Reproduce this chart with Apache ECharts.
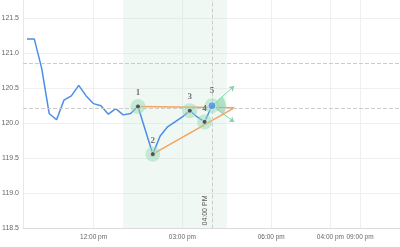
<!DOCTYPE html>
<html><head><meta charset="utf-8">
<script src="https://cdn.jsdelivr.net/npm/echarts@6/dist/echarts.min.js"></script>
<style>html,body{margin:0;padding:0;background:#fff}#c{width:400px;height:247px}</style>
</head><body><div id="c"></div>
<script>
// ---- data ----
const times = ['09:45','10:00','10:15','10:30','10:45','11:00','11:15','11:30','11:45','12:00','12:15','12:30','12:45','13:00','13:15','13:30','13:45','14:00','14:15','14:30','14:45','15:00','15:15','15:30','15:45','16:00'];
const prices = [121.20,121.20,120.78,120.14,120.05,120.33,120.39,120.54,120.39,120.28,120.25,120.13,120.21,120.12,120.14,120.24,119.90,119.56,119.82,119.95,120.02,120.09,120.18,120.09,120.02,120.25];
const patternTimes = ['13:30','14:00','15:15','15:45','16:00'];
const patternValues = [120.24,119.56,120.18,120.02,120.25];
const patternLabels = ['1','2','3','4','5'];
const triangleTimes = ['13:30','16:45','14:00'];
const triangleValues = [120.24,120.22,119.56];
const arrowTipTimes = ['16:45','16:45'];
const arrowTipValues = [120.53,120.02];
const levelLines = [120.857,120.21];
const sessionStart = '13:00', sessionEnd = '16:30';
const markerTime = '16:00', markerLabel = '04:00 PM';
const xTickTimes = ['12:00','15:00','18:00','20:00','21:00'];
const xTickLabels = ['12:00 pm','03:00 pm','06:00 pm','04:00 pm','09:00 pm'];
const yTicks = [118.5,119.0,119.5,120.0,120.5,121.0,121.5];
const xRange = ['09:37','22:21'];

function h(t){const p=t.split(':');return +p[0]+(+p[1])/60;}
const xTickVals = xTickTimes.map(h);

const chart = echarts.init(document.getElementById('c'), null, {renderer:'canvas'});
const p5 = [h(patternTimes[4]), patternValues[4]];
chart.setOption({
  animation:false,
  grid:{left:23,right:0,top:-17,bottom:18.5,containLabel:false,outerBoundsMode:'none'},
  xAxis:{type:'value',min:h(xRange[0]),max:h(xRange[1]),
    axisLine:{show:true,lineStyle:{color:'#dcdcdc'}},
    axisTick:{show:false,customValues:xTickVals},
    axisLabel:{customValues:xTickVals,color:'#666',fontSize:6.5,margin:5,fontFamily:'Liberation Sans',hideOverlap:false,
      showMinLabel:true,showMaxLabel:true,
      formatter:function(v){const i=xTickVals.findIndex(x=>Math.abs(x-v)<1e-6);return i>=0?xTickLabels[i]:'';}},
    splitLine:{show:true,lineStyle:{color:'#efefef',width:1}}
  },
  yAxis:{type:'value',min:118.5,max:122,interval:0.5,
    axisLine:{show:true,lineStyle:{color:'#e8e8e8'}},
    axisTick:{show:false},
    axisLabel:{color:'#666',fontSize:7,margin:4,fontFamily:'Liberation Sans',
      formatter:function(v){return yTicks.some(y=>Math.abs(y-v)<1e-6)?v.toFixed(1):'';}},
    splitLine:{lineStyle:{color:'#efefef',width:1}}
  },
  series:[
    {type:'line',data:times.map((t,i)=>[h(t),prices[i]]),showSymbol:false,symbol:'none',
      lineStyle:{color:'#4a8fe7',width:1.5},z:3,
      markArea:{silent:true,itemStyle:{color:'rgba(190,228,206,0.25)'},data:[[{xAxis:h(sessionStart)},{xAxis:h(sessionEnd)}]]},
      markLine:{silent:true,symbol:'none',
        lineStyle:{color:'#cccccc',type:'dashed',width:1},
        data:[
          {yAxis:levelLines[0],label:{show:false}},
          {yAxis:levelLines[1],label:{show:false}},
          {xAxis:h(markerTime),label:{show:true,formatter:markerLabel,position:'insideStartTop',fontSize:7,color:'#555',fontFamily:'Liberation Sans',distance:3}}
        ]}
    },
    {type:'line',data:triangleTimes.map((t,i)=>[h(t),triangleValues[i]]),showSymbol:false,symbol:'none',
      lineStyle:{color:'#f5a35c',width:1.5},z:2},
    {type:'custom',z:4,data:[p5],
      renderItem:function(params,api){
        const c=api.coord(p5);
        const a=api.coord([h(arrowTipTimes[0]),arrowTipValues[0]]);
        const b=api.coord([h(arrowTipTimes[1]),arrowTipValues[1]]);
        const a1=Math.atan2(a[1]-c[1],a[0]-c[0]);
        const a2=Math.atan2(b[1]-c[1],b[0]-c[0]);
        return {type:'sector',shape:{cx:c[0],cy:c[1],r0:0,r:14,startAngle:a1,endAngle:a2,clockwise:true},
          style:{fill:'rgba(120,210,160,0.55)'}};
      }},
    {type:'lines',coordinateSystem:'cartesian2d',z:4,symbol:['none','arrow'],symbolSize:5,
      lineStyle:{color:'#7fd4a8',width:1,opacity:1},
      data:arrowTipTimes.map((t,i)=>({coords:[p5,[h(t),arrowTipValues[i]]]}))},
    {type:'scatter',z:5,symbolSize:15,silent:true,
      itemStyle:{color:'rgba(150,220,178,0.6)'},
      data:patternTimes.map((t,i)=>[h(t),patternValues[i]])},
    {type:'scatter',z:6,silent:true,
      data:patternTimes.map((t,i)=>({value:[h(t),patternValues[i]],
        symbolSize:i===4?8:5,
        itemStyle:i===4?{color:'#4a8fe7',borderColor:'#e8f2fd',borderWidth:1}:{color:'#3a3a3a',borderColor:'#dff3e6',borderWidth:1}})),
      label:{show:true,position:'top',distance:6,fontSize:9,color:'#555',fontWeight:'bold',fontFamily:'Liberation Serif',
        formatter:function(p){return patternLabels[p.dataIndex];}}
    }
  ]
});
</script></body></html>
